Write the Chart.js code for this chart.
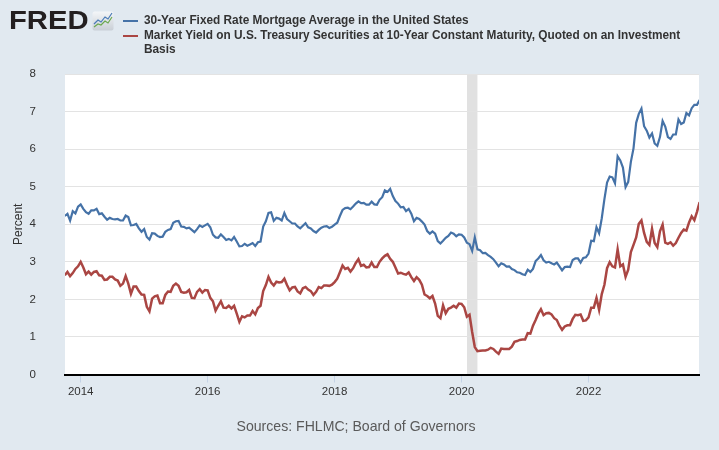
<!DOCTYPE html>
<html>
<head>
<meta charset="utf-8">
<script src="https://cdn.jsdelivr.net/npm/chart.js@4.4.0/dist/chart.umd.min.js"></script>
<style>
  html, body { margin: 0; padding: 0; }
  body { width: 719px; height: 450px; background: #e1e9f0; position: relative; overflow: hidden;
         font-family: "Liberation Sans", Arial, sans-serif; }
  #chart { position: absolute; left: 0; top: 0; }
  .logo { position: absolute; left: 9px; top: 6px; font-weight: bold; font-size: 25px; color: #231f20;
          transform: scaleX(1.17); transform-origin: left top; }
  .icon { position: absolute; left: 92px; top: 11px; }
  .legend { position: absolute; left: 123px; top: 13px; font-weight: bold; font-size: 13px; color: #333;
            line-height: 14.5px; white-space: nowrap; }
  .legend .row { position: relative; padding-left: 21px; }
  .legend .txt { display: inline-block; transform: scaleX(0.91); transform-origin: left top; }
  .legend .sw { position: absolute; left: 0; top: 7px; width: 15px; height: 2px; }
  .source { position: absolute; left: 356px; top: 417px; font-size: 15px; color: #5a5a5a; white-space: nowrap;
            transform: translateX(-50%) scaleX(0.94); }
</style>
</head>
<body>
<canvas id="chart" width="719" height="450"></canvas>
<div class="logo">FRED</div>
<svg class="icon" width="22" height="20" viewBox="0 0 22 20">
  <defs><linearGradient id="g" x1="0" y1="0" x2="0" y2="1"><stop offset="0" stop-color="#f4f6f8"/><stop offset="1" stop-color="#c9cfd6"/></linearGradient></defs>
  <rect x="0.5" y="0.5" width="21" height="19" rx="2" fill="url(#g)"/>
  <polyline points="2,13 6,9 9,11 13,6 16,8 20,2" fill="none" stroke="#4a7bb7" stroke-width="1.2"/>
  <polyline points="2,16 6,13 9,14 13,10 16,12 20,6" fill="none" stroke="#6aa84f" stroke-width="1.2"/>
</svg>
<div class="legend">
  <div class="row"><span class="sw" style="background:#4572a7"></span><span class="txt">30-Year Fixed Rate Mortgage Average in the United States</span></div>
  <div class="row"><span class="sw" style="background:#aa4643"></span><span class="txt">Market Yield on U.S. Treasury Securities at 10-Year Constant Maturity, Quoted on an Investment<br>Basis</span></div>
</div>
<div class="source">Sources: FHLMC; Board of Governors</div>
<script>
// semi-monthly readings (1st and 16th of each month), Oct 2013 .. Oct 2023
const startYear = 2013.75;
const mortgage30 = [
  4.22, 4.28, 4.10, 4.35, 4.29, 4.47,
  4.53, 4.41, 4.32, 4.28, 4.37, 4.37, 4.41, 4.27, 4.29, 4.20, 4.12, 4.17, 4.14, 4.13, 4.14, 4.10, 4.10, 4.23, 4.19, 3.97, 3.98, 4.01, 3.89, 3.80,
  3.87, 3.66, 3.59, 3.76, 3.75, 3.69, 3.66, 3.67, 3.80, 3.85, 3.87, 4.04, 4.08, 4.09, 3.94, 3.93, 3.89, 3.91, 3.85, 3.79, 3.87, 3.97, 3.93, 3.97,
  4.01, 3.92, 3.72, 3.65, 3.64, 3.73, 3.66, 3.58, 3.61, 3.57, 3.66, 3.54, 3.41, 3.42, 3.48, 3.43, 3.46, 3.50, 3.42, 3.52, 3.54, 3.94, 4.08, 4.30,
  4.32, 4.09, 4.17, 4.15, 4.10, 4.30, 4.14, 4.08, 4.02, 4.02, 3.94, 3.89, 3.96, 4.03, 3.92, 3.89, 3.82, 3.78, 3.85, 3.91, 3.94, 3.95, 3.90, 3.93,
  3.99, 4.04, 4.22, 4.38, 4.43, 4.44, 4.40, 4.47, 4.55, 4.61, 4.56, 4.57, 4.52, 4.52, 4.60, 4.53, 4.52, 4.65, 4.72, 4.90, 4.86, 4.94, 4.75, 4.62,
  4.55, 4.45, 4.46, 4.35, 4.41, 4.28, 4.08, 4.17, 4.14, 4.07, 3.99, 3.82, 3.75, 3.81, 3.75, 3.55, 3.49, 3.56, 3.64, 3.69, 3.78, 3.75, 3.68, 3.73,
  3.72, 3.65, 3.51, 3.47, 3.29, 3.65, 3.33, 3.31, 3.23, 3.24, 3.18, 3.13, 3.07, 2.98, 2.88, 2.96, 2.93, 2.87, 2.88, 2.81, 2.78, 2.72, 2.71, 2.67,
  2.65, 2.79, 2.73, 2.81, 3.02, 3.09, 3.18, 3.04, 2.98, 3.00, 2.96, 2.93, 2.98, 2.88, 2.77, 2.86, 2.87, 2.86, 3.05, 3.09, 3.09, 2.98, 3.10, 3.12,
  3.22, 3.56, 3.55, 3.92, 3.76, 4.16, 4.67, 5.11, 5.27, 5.25, 5.09, 5.81, 5.70, 5.51, 4.99, 5.13, 5.66, 6.02, 6.70, 6.94, 7.08, 6.61, 6.49, 6.31,
  6.42, 6.15, 6.09, 6.32, 6.75, 6.60, 6.32, 6.27, 6.39, 6.39, 6.79, 6.67, 6.71, 6.96, 6.90, 7.09, 7.18, 7.18, 7.31
];
const treasury10 = [
  2.64, 2.73, 2.62, 2.70, 2.81, 2.88,
  3.00, 2.85, 2.67, 2.74, 2.66, 2.73, 2.75, 2.64, 2.63, 2.52, 2.53, 2.60, 2.60, 2.53, 2.50, 2.36, 2.42, 2.62, 2.42, 2.15, 2.34, 2.34, 2.22, 2.13,
  2.12, 1.80, 1.68, 2.02, 2.08, 2.10, 1.90, 1.90, 2.12, 2.21, 2.20, 2.36, 2.42, 2.36, 2.20, 2.18, 2.19, 2.25, 2.04, 2.03, 2.20, 2.27, 2.18, 2.25,
  2.24, 2.04, 1.95, 1.70, 1.83, 1.95, 1.78, 1.77, 1.83, 1.76, 1.83, 1.62, 1.40, 1.55, 1.52, 1.57, 1.57, 1.69, 1.60, 1.77, 1.83, 2.22, 2.38, 2.60,
  2.45, 2.37, 2.47, 2.45, 2.46, 2.55, 2.38, 2.24, 2.32, 2.33, 2.21, 2.16, 2.30, 2.33, 2.26, 2.22, 2.12, 2.20, 2.33, 2.30, 2.37, 2.37, 2.36, 2.39,
  2.46, 2.55, 2.72, 2.90, 2.81, 2.84, 2.74, 2.83, 2.97, 3.07, 2.89, 2.92, 2.85, 2.86, 2.98, 2.86, 2.86, 3.00, 3.09, 3.16, 3.20, 3.08, 3.00, 2.85,
  2.69, 2.71, 2.68, 2.66, 2.72, 2.59, 2.49, 2.59, 2.52, 2.39, 2.13, 2.09, 2.03, 2.09, 1.89, 1.56, 1.50, 1.84, 1.63, 1.75, 1.78, 1.83, 1.78, 1.89,
  1.88, 1.79, 1.54, 1.59, 1.13, 0.73, 0.62, 0.63, 0.64, 0.64, 0.66, 0.71, 0.68, 0.61, 0.55, 0.69, 0.68, 0.68, 0.68, 0.74, 0.87, 0.89, 0.92, 0.93,
  0.93, 1.10, 1.09, 1.30, 1.45, 1.62, 1.74, 1.58, 1.63, 1.64, 1.60, 1.50, 1.45, 1.30, 1.19, 1.28, 1.31, 1.31, 1.48, 1.59, 1.58, 1.60, 1.43, 1.44,
  1.52, 1.78, 1.78, 2.04, 1.72, 2.14, 2.39, 2.83, 2.99, 2.88, 2.85, 3.33, 2.88, 2.93, 2.60, 2.79, 3.26, 3.45, 3.65, 4.01, 4.10, 3.77, 3.53, 3.45,
  3.88, 3.50, 3.39, 3.81, 3.99, 3.51, 3.48, 3.52, 3.43, 3.50, 3.64, 3.77, 3.86, 3.83, 4.05, 4.21, 4.11, 4.33, 4.59
];
const yearTicks = [2014, 2016, 2018, 2020, 2022];
const yTicks = [0, 1, 2, 3, 4, 5, 6, 7, 8];
const recessions = [[2020.085, 2020.25]];

const toPoints = arr => arr.map((v, i) => ({ x: startYear + i / 24, y: v }));

const plotBg = {
  id: 'plotBg',
  beforeDraw(chart) {
    const { ctx, chartArea: a, scales: { x } } = chart;
    ctx.save();
    ctx.fillStyle = '#ffffff';
    ctx.fillRect(a.left, a.top, a.right - a.left, a.bottom - a.top);
    ctx.fillStyle = '#e1e1e1';
    recessions.forEach(([s, e]) => {
      const x0 = x.getPixelForValue(s), x1 = x.getPixelForValue(e);
      ctx.fillRect(x0, a.top, x1 - x0, a.bottom - a.top);
    });
    ctx.restore();
  }
};

const tickFont = { family: '"Liberation Sans", Arial, sans-serif', size: 11.5 };

new Chart(document.getElementById('chart').getContext('2d'), {
  type: 'line',
  data: {
    datasets: [
      { label: '30-Year Fixed Rate Mortgage Average in the United States', data: toPoints(mortgage30),
        borderColor: '#4572a7', borderWidth: 2.2, pointRadius: 0, tension: 0 },
      { label: 'Market Yield on U.S. Treasury Securities at 10-Year Constant Maturity', data: toPoints(treasury10),
        borderColor: '#aa4643', borderWidth: 2.5, pointRadius: 0, tension: 0 }
    ]
  },
  options: {
    responsive: false,
    animation: false,
    devicePixelRatio: 1,
    layout: { padding: { left: 0, right: 20, top: 74, bottom: 0 } },
    plugins: { legend: { display: false }, tooltip: { enabled: false } },
    scales: {
      x: {
        type: 'linear', min: 2013.753, max: 2023.74,
        afterBuildTicks: s => { s.ticks = yearTicks.map(v => ({ value: v })); },
        afterFit: s => { s.height = 75.5; },
        ticks: { color: '#333', font: tickFont, padding: 2, maxRotation: 0, autoSkip: false, callback: v => String(v) },
        grid: { drawOnChartArea: false, drawTicks: true, tickLength: 8, color: '#c5d3e6' },
        border: { display: true, color: '#000', width: 2 }
      },
      y: {
        min: 0, max: 8,
        afterBuildTicks: s => { s.ticks = yTicks.map(v => ({ value: v })); },
        afterFit: s => { s.width = 65; },
        ticks: { color: '#333', font: tickFont, padding: 29 },
        grid: { color: '#e3e3e3', lineWidth: 1, drawTicks: false },
        border: { display: false },
        title: { display: true, text: 'Percent', color: '#333', font: { family: '"Liberation Sans", Arial, sans-serif', size: 12 }, padding: { top: 11, bottom: 0 } }
      }
    }
  },
  plugins: [plotBg]
});
</script>
</body>
</html>
